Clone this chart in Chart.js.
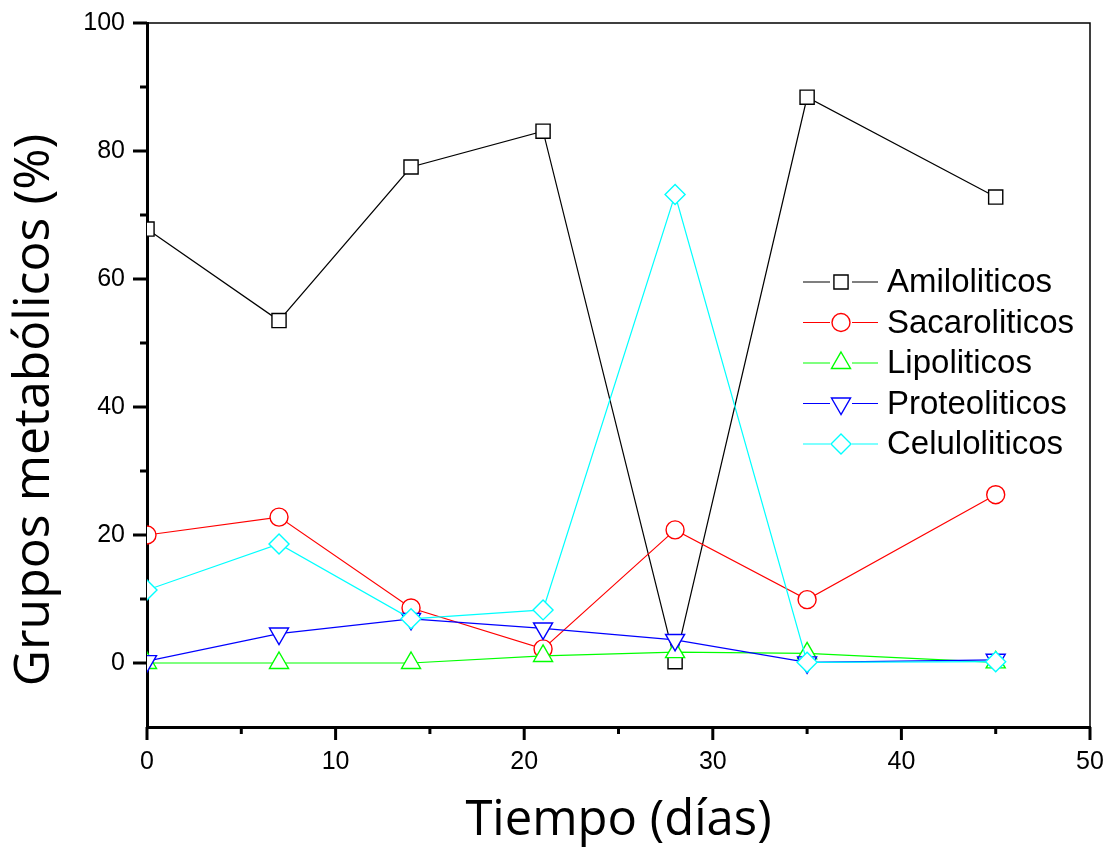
<!DOCTYPE html>
<html lang="es">

<head>
    <meta charset="UTF-8">
    <script src="https://cdn.jsdelivr.net/npm/chart.js"></script>
    <title>Grupos metabólicos</title>
    <style>
        html, body { margin: 0; padding: 0; background: #FFFFFF; }
        #caja { width: 1113px; height: 852px; }
    </style>
</head>

<body>
    <div id="caja"><canvas id="grafico"></canvas></div>
</body>

</html>

<script>
    // datos
    const dias = [0, 7, 14, 21, 28, 35, 45]
    const amiloliticos = [67.8, 53.5, 77.5, 83.1, 0.2, 88.4, 72.8]
    const sacaroliticos = [20.0, 22.8, 8.6, 2.2, 20.8, 9.9, 26.3]
    const lipoliticos = [0, 0, 0, 1.1, 1.7, 1.5, 0.1]
    const proteoliticos = [0.3, 4.6, 6.9, 5.4, 3.6, 0.1, 0.5]
    const celuloliticos = [11.4, 18.6, 6.9, 8.3, 73.2, 0.1, 0.2]
    const nombres = ['Amiloliticos', 'Sacaroliticos', 'Lipoliticos', 'Proteoliticos', 'Celuloliticos']
    const tituloY = 'Grupos metabólicos (%)'
    const tituloX = 'Tiempo (días)'

    const puntos = (ys) => dias.map((d, i) => ({ x: d, y: ys[i] }))

    function serie(nombre, ys, color, estilo, radio, giro, orden) {
        return {
            label: nombre,
            data: puntos(ys),
            borderColor: color,
            borderWidth: 1.2,
            pointStyle: estilo,
            pointRadius: radio,
            pointRotation: giro,
            pointBorderColor: color,
            pointBackgroundColor: '#FFFFFF',
            pointBorderWidth: 1.4,
            order: orden
        }
    }

    // sin relleno extra de las etiquetas, el area queda donde la pone layout.padding
    function sinRelleno(s) {
        s.paddingTop = 0
        s.paddingBottom = 0
        s.paddingLeft = 0
        s.paddingRight = 0
    }

    // ticks menores/mayores, marco superior/derecho y titulo Y
    const marco = {
        id: 'marco',
        afterDraw(chart) {
            const ctx = chart.ctx
            const a = chart.chartArea
            const sx = chart.scales.x
            const sy = chart.scales.y
            ctx.save()
            ctx.strokeStyle = '#000000'
            ctx.lineWidth = 1.5
            ctx.beginPath()
            ctx.moveTo(a.left, a.top)
            ctx.lineTo(a.right, a.top)
            ctx.lineTo(a.right, a.bottom)
            ctx.stroke()
            ctx.lineWidth = 3
            for (let v = 0; v <= 100; v += 10) {
                const py = sy.getPixelForValue(v)
                const largo = v % 20 == 0 ? 14 : 7
                ctx.beginPath()
                ctx.moveTo(a.left - largo, py)
                ctx.lineTo(a.left, py)
                ctx.stroke()
            }
            for (let v = 0; v <= 50; v += 5) {
                const px = sx.getPixelForValue(v)
                const largo = v % 10 == 0 ? 13 : 7
                ctx.beginPath()
                ctx.moveTo(px, a.bottom)
                ctx.lineTo(px, a.bottom + largo)
                ctx.stroke()
            }
            // titulo del eje Y (un poco mas abajo que el centro del area)
            ctx.translate(35, 410)
            ctx.rotate(-Math.PI / 2)
            ctx.fillStyle = '#000000'
            ctx.font = '50px "Open Sans", sans-serif'
            ctx.textAlign = 'center'
            ctx.textBaseline = 'middle'
            ctx.fillText(tituloY, 0, 0)
            ctx.restore()
        }
    }

    // leyenda estilo Origin
    const leyenda = {
        id: 'leyenda',
        afterDraw(chart) {
            const ctx = chart.ctx
            ctx.save()
            ctx.font = '33px "Liberation Sans", Arial, sans-serif'
            ctx.textBaseline = 'middle'
            chart.data.datasets.forEach((ds, i) => {
                const y = 282 + i * 40.5
                ctx.strokeStyle = ds.borderColor
                ctx.lineWidth = 1.2
                ctx.beginPath()
                ctx.moveTo(803, y)
                ctx.lineTo(830, y)
                ctx.moveTo(852, y)
                ctx.lineTo(878, y)
                ctx.stroke()
                ctx.fillStyle = '#FFFFFF'
                ctx.lineWidth = 1.4
                Chart.helpers.drawPoint(ctx, {
                    pointStyle: ds.pointStyle,
                    rotation: ds.pointRotation,
                    radius: ds.pointRadius,
                    borderWidth: 1.4
                }, 841, y)
                ctx.fillStyle = '#000000'
                ctx.fillText(ds.label, 887, y + 1)
            })
            ctx.restore()
        }
    }

    new Chart(grafico, {
        type: 'line',
        data: {
            datasets: [
                serie(nombres[0], amiloliticos, '#000000', 'rect', 10, 0, 5),
                serie(nombres[1], sacaroliticos, '#FF0000', 'circle', 9, 0, 4),
                serie(nombres[2], lipoliticos, '#00FF00', 'triangle', 11, 0, 3),
                serie(nombres[3], proteoliticos, '#0000FF', 'triangle', 11, 180, 2),
                serie(nombres[4], celuloliticos, '#00FFFF', 'rectRot', 10, 0, 1)
            ]
        },
        options: {
            responsive: true,
            maintainAspectRatio: false,
            animation: false,
            layout: { padding: { top: 23, right: 23, left: 0, bottom: 0 } },
            plugins: {
                legend: { display: false },
                tooltip: { enabled: false }
            },
            scales: {
                x: {
                    type: 'linear',
                    min: 0,
                    max: 50,
                    grid: { drawOnChartArea: false, drawTicks: false },
                    border: { color: '#000000', width: 3 },
                    ticks: {
                        stepSize: 5,
                        padding: 20,
                        color: '#000000',
                        font: { family: '"Liberation Sans", Arial, sans-serif', size: 25 },
                        callback: v => v % 10 == 0 ? v : ''
                    },
                    title: {
                        display: true,
                        text: tituloX,
                        color: '#000000',
                        font: { family: '"Open Sans", sans-serif', size: 49 },
                        padding: { top: 0, bottom: 2 }
                    },
                    afterFit: s => { s.height = 125; sinRelleno(s) }
                },
                y: {
                    min: -10,
                    max: 100,
                    grid: { drawOnChartArea: false, drawTicks: false },
                    border: { color: '#000000', width: 3 },
                    ticks: {
                        stepSize: 10,
                        padding: 22,
                        color: '#000000',
                        font: { family: '"Liberation Sans", Arial, sans-serif', size: 25 },
                        callback: v => (v >= 0 && v % 20 == 0) ? v : ''
                    },
                    afterFit: s => { s.width = 147; sinRelleno(s) }
                }
            }
        },
        plugins: [marco, leyenda]
    });
</script>
